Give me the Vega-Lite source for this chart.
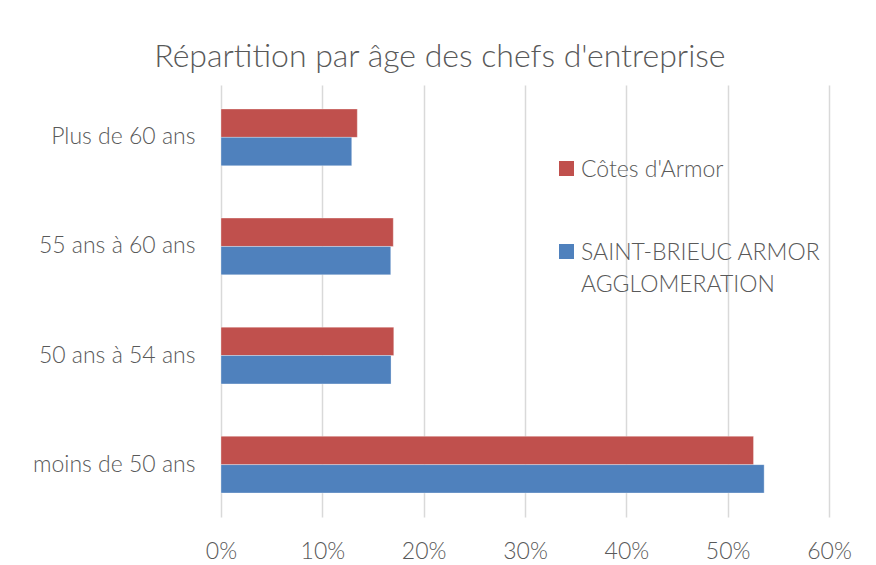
{
  "$schema": "https://vega.github.io/schema/vega-lite/v6.json",
  "width": 608,
  "height": 432,
  "autosize": "none",
  "padding": {"left": 221, "top": 85, "right": 47, "bottom": 48},
  "background": "white",
  "title": {
    "text": "Répartition par âge des chefs d'entreprise",
    "anchor": "middle",
    "frame": "bounds",
    "fontSize": 32,
    "font": "Lato",
    "fontWeight": 300,
    "color": "#595959",
    "offset": 11,
    "dx": -2
  },
  "data": {
    "values": [
      {"age": "Plus de 60 ans", "zone": "Côtes d'Armor", "part": 0.1345},
      {"age": "Plus de 60 ans", "zone": "SAINT-BRIEUC ARMOR AGGLOMERATION", "part": 0.129},
      {"age": "55 ans à 60 ans", "zone": "Côtes d'Armor", "part": 0.170},
      {"age": "55 ans à 60 ans", "zone": "SAINT-BRIEUC ARMOR AGGLOMERATION", "part": 0.1675},
      {"age": "50 ans à 54 ans", "zone": "Côtes d'Armor", "part": 0.1705},
      {"age": "50 ans à 54 ans", "zone": "SAINT-BRIEUC ARMOR AGGLOMERATION", "part": 0.1678},
      {"age": "moins de 50 ans", "zone": "Côtes d'Armor", "part": 0.5255},
      {"age": "moins de 50 ans", "zone": "SAINT-BRIEUC ARMOR AGGLOMERATION", "part": 0.536}
    ]
  },
  "mark": {"type": "bar", "stroke": "white", "strokeOpacity": 0.4, "strokeWidth": 0.8},
  "encoding": {
    "y": {
      "field": "age",
      "type": "nominal",
      "sort": ["Plus de 60 ans", "55 ans à 60 ans", "50 ans à 54 ans", "moins de 50 ans"],
      "scale": {"paddingInner": 0.48, "paddingOuter": 0.22},
      "axis": {
        "title": null,
        "domain": false,
        "ticks": false,
        "labelPadding": 26,
        "labelOffset": -8,
        "labelFontSize": 23,
        "labelFont": "Lato",
        "labelFontWeight": 300,
        "labelColor": "#595959"
      }
    },
    "yOffset": {
      "field": "zone",
      "type": "nominal",
      "sort": ["Côtes d'Armor", "SAINT-BRIEUC ARMOR AGGLOMERATION"],
      "scale": {"paddingInner": 0, "paddingOuter": 0}
    },
    "x": {
      "field": "part",
      "type": "quantitative",
      "scale": {"domain": [0, 0.6], "nice": false},
      "axis": {
        "title": null,
        "format": ".0%",
        "values": [0, 0.1, 0.2, 0.3, 0.4, 0.5, 0.6],
        "domain": false,
        "ticks": false,
        "grid": true,
        "gridColor": "#d9d9d9",
        "gridWidth": 1.5,
        "labelFlush": false,
        "labelPadding": 15,
        "labelFontSize": 23,
        "labelFont": "Lato",
        "labelFontWeight": 300,
        "labelColor": "#595959"
      }
    },
    "color": {
      "field": "zone",
      "type": "nominal",
      "sort": ["Côtes d'Armor", "SAINT-BRIEUC ARMOR AGGLOMERATION"],
      "scale": {"domain": ["Côtes d'Armor", "SAINT-BRIEUC ARMOR AGGLOMERATION"], "range": ["#C0504D", "#4F81BD"]},
      "legend": {
        "title": null,
        "orient": "none",
        "legendX": 334,
        "legendY": 72,
        "symbolType": "square",
        "symbolSize": 225,
        "symbolStrokeWidth": 0,
        "rowPadding": 58,
        "labelFontSize": 23,
        "labelFont": "Lato",
        "labelFontWeight": 300,
        "labelColor": "#595959",
        "labelLimit": 400,
        "labelOffset": 3,
        "labelBaseline": "alphabetic",
        "labelExpr": "datum.label == 'SAINT-BRIEUC ARMOR AGGLOMERATION' ? ['SAINT-BRIEUC ARMOR', 'AGGLOMERATION'] : datum.label"
      }
    }
  },
  "config": {"view": {"stroke": null}, "style": {"guide-label": {"lineHeight": 32, "dy": 8}}}
}
